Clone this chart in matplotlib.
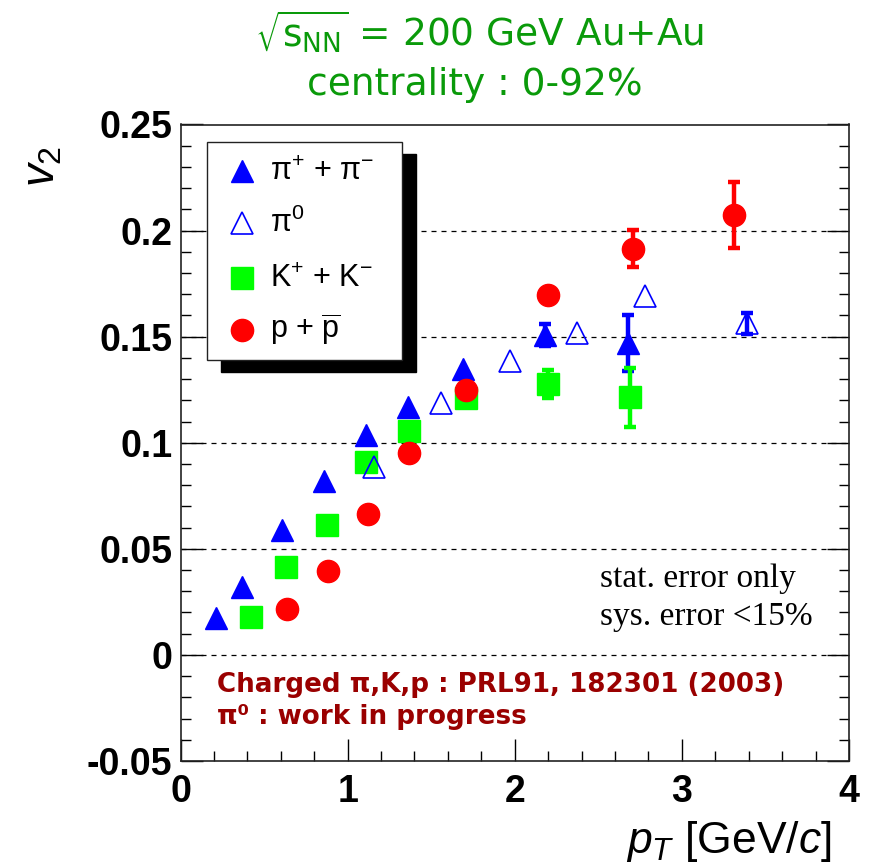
import matplotlib
matplotlib.use("Agg")
import matplotlib.pyplot as plt
from matplotlib.lines import Line2D
from matplotlib.patches import Rectangle
from matplotlib.ticker import MultipleLocator

plt.rcParams["mathtext.fontset"] = "custom"
plt.rcParams["mathtext.rm"] = "Liberation Sans"
plt.rcParams["mathtext.it"] = "Liberation Sans:italic"
plt.rcParams["mathtext.bf"] = "Liberation Sans:bold"

# ---- data: v2 vs pT, Au+Au 200 GeV, 0-92% ----
# errors of 0 are smaller than the marker and are not drawn
pi_ch_pt = [0.21, 0.37, 0.61, 0.86, 1.11, 1.36, 1.69, 2.18, 2.68]
pi_ch_v2 = [0.0173, 0.0322, 0.0589, 0.0821, 0.1037, 0.117, 0.1348, 0.1508, 0.147]
pi_ch_err = [0, 0, 0, 0, 0, 0, 0, 0.0054, 0.0133]

pi0_pt = [1.16, 1.56, 1.97, 2.37, 2.78, 3.39]
pi0_v2 = [0.0887, 0.1186, 0.1385, 0.1519, 0.1692, 0.1563]
pi0_err = [0, 0, 0, 0, 0, 0.005]

k_pt = [0.42, 0.63, 0.875, 1.11, 1.37, 1.71, 2.2, 2.69]
k_v2 = [0.018, 0.0416, 0.0611, 0.091, 0.1057, 0.121, 0.1277, 0.1214]
k_err = [0, 0, 0, 0, 0, 0, 0.0066, 0.0138]

p_pt = [0.64, 0.88, 1.12, 1.37, 1.71, 2.2, 2.71, 3.31]
p_v2 = [0.0215, 0.0397, 0.0663, 0.095, 0.1249, 0.1697, 0.1915, 0.2074]
p_err = [0, 0, 0, 0, 0, 0, 0.0088, 0.0157]

x_ticks = [0, 1, 2, 3, 4]
x_ticklabels = ["0", "1", "2", "3", "4"]
y_ticks = [-0.05, 0, 0.05, 0.1, 0.15, 0.2, 0.25]
y_ticklabels = ["-0.05", "0", "0.05", "0.1", "0.15", "0.2", "0.25"]

legend_labels = [r"π$^{+}$ + π$^{-}$", r"π$^{0}$",
                 r"K$^{+}$ + K$^{-}$", r"p + $\overline{\mathrm{p}}$"]

W, H = 872, 865
fig = plt.figure(figsize=(W / 100, H / 100), dpi=100)


def fx(px):
    return px / W


def fy(py):
    return 1 - py / H


left, right, top, bottom = 180.5, 849, 124.5, 761
ax = fig.add_axes([fx(left), fy(bottom), fx(right - left), (bottom - top) / H])
ax.set_xlim(0, 4)
ax.set_ylim(-0.05, 0.25)

for s in ax.spines.values():
    s.set_linewidth(1.2)
    s.set_color("#222222")

ax.set_xticks(x_ticks)
ax.set_xticklabels(x_ticklabels)
ax.set_yticks(y_ticks)
ax.set_yticklabels(y_ticklabels)
ax.xaxis.set_minor_locator(MultipleLocator(0.2))
ax.yaxis.set_minor_locator(MultipleLocator(0.01))
ax.tick_params(which="both", direction="in", right=True, top=False, width=1.0)
ax.tick_params(which="major", length=16)
ax.tick_params(which="minor", length=7.5)
ax.tick_params(axis="y", which="major", pad=6)
ax.tick_params(axis="x", which="major", pad=9)
for lab in ax.get_xticklabels() + ax.get_yticklabels():
    lab.set_fontfamily("Liberation Sans")
    lab.set_fontweight("bold")
    lab.set_fontsize(27)

for yv in [0, 0.05, 0.1, 0.15, 0.2]:
    ax.axhline(yv, color="black", lw=0.9, ls=(0, (4, 4)), zorder=1)

series = [
    (pi_ch_pt, pi_ch_v2, pi_ch_err, dict(marker="^", color="#0000ff", ms=15.5)),
    (k_pt, k_v2, k_err, dict(marker="s", color="#00ff00", ms=15.5)),
    (p_pt, p_v2, p_err, dict(marker="o", color="#ff0000", ms=16)),
    (pi0_pt, pi0_v2, pi0_err, dict(marker="^", color="#0000ff", ms=15.5,
                                   mfc="none", mew=1.2)),
]
z = 2
for xs, ys, es, st in series:
    sel = [i for i, e in enumerate(es) if e > 0]
    ax.errorbar([xs[i] for i in sel], [ys[i] for i in sel],
                yerr=[es[i] for i in sel], fmt="none", ecolor=st["color"],
                elinewidth=3.2, capsize=4, capthick=3.2, zorder=z)
    ax.plot(xs, ys, ls="none", zorder=z + 0.5, **st)
    z += 1

# legend box with drop shadow
bx0, by0, bx1, by1 = 206.7, 142.3, 402.3, 360
fig.add_artist(Rectangle((fx(bx0 + 14), fy(by1 + 12)), fx(bx1 - bx0), (by1 - by0) / H,
                         transform=fig.transFigure, facecolor="black",
                         edgecolor="black", zorder=5))
fig.add_artist(Rectangle((fx(bx0), fy(by1)), fx(bx1 - bx0), (by1 - by0) / H,
                         transform=fig.transFigure, facecolor="white",
                         edgecolor="#222222", lw=1.0, zorder=6))
rows = [171, 223.3, 278.3, 330]
for ry, (_, _, _, st), lab in zip(rows, [series[0], series[3], series[1], series[2]],
                                  legend_labels):
    fig.add_artist(Line2D([fx(241.7)], [fy(ry)], transform=fig.transFigure,
                          ls="none", zorder=7, **st))
    fig.text(fx(270), fy(ry + 8.5), lab, fontsize=22, va="baseline", ha="left",
             family="Liberation Sans", zorder=7)

# axis titles
fig.text(fx(42), fy(166), r"$v_2$", rotation=90, fontsize=33, ha="center",
         va="center", family="Liberation Sans")
fig.text(fx(832), fy(853), r"$p_T$ [GeV/$c$]", fontsize=32, ha="right",
         va="baseline", family="Liberation Sans")

# header
green = "#0a9a0a"
fig.text(fx(480), fy(47), r"$\sqrt{\mathrm{s}_{\mathrm{NN}}}$ = 200 GeV Au+Au",
         fontsize=27, ha="center", va="baseline", color=green,
         family="DejaVu Sans", math_fontfamily="dejavusans")
fig.text(fx(475), fy(95), "centrality : 0-92%", fontsize=27, ha="center",
         va="baseline", color=green, family="DejaVu Sans")

# notes
fig.text(fx(600), fy(587), "stat. error only", fontsize=24, ha="left",
         va="baseline", family="Liberation Serif")
fig.text(fx(600), fy(625), "sys. error <15%", fontsize=24, ha="left",
         va="baseline", family="Liberation Serif")

darkred = "#9a0000"
fig.text(fx(217), fy(692), "Charged π,K,p : PRL91, 182301 (2003)", fontsize=18.8,
         ha="left", va="baseline", color=darkred, family="DejaVu Sans",
         fontweight="bold")
fig.text(fx(217), fy(724), "π⁰ : work in progress", fontsize=18.8,
         ha="left", va="baseline", color=darkred, family="DejaVu Sans",
         fontweight="bold")

fig.savefig("out.png", dpi=100)
